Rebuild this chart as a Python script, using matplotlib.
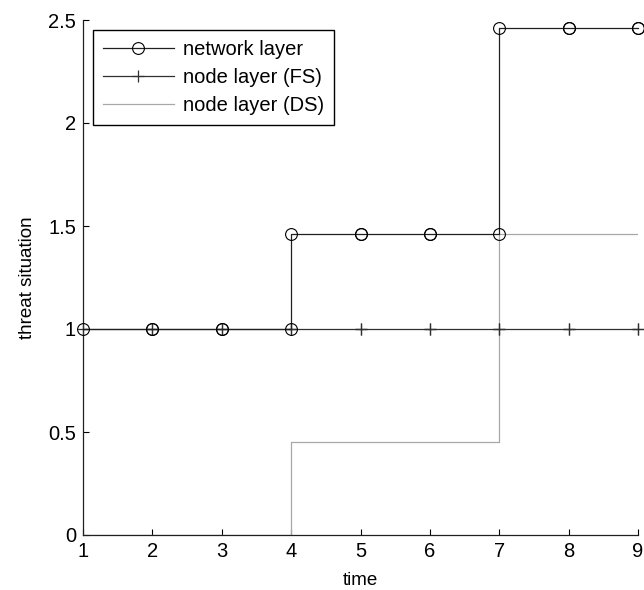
import numpy as np
import matplotlib.pyplot as plt

plt.rcParams['font.family'] = ['Liberation Sans', 'DejaVu Sans']

# ─── Data ────────────────────────────────────────────────────────────
time = [1, 2, 3, 4, 5, 6, 7, 8, 9]
network = [1, 1, 1, 1.46, 1.46, 1.46, 2.46, 2.46, 2.46]
node_fs = [1, 1, 1, 1, 1, 1, 1, 1, 1]
node_ds = [0, 0, 0, 0.45, 0.45, 0.45, 1.46, 1.46, 1.46]
xticks = [1, 2, 3, 4, 5, 6, 7, 8, 9]
yticks = [0, 0.5, 1, 1.5, 2, 2.5]


def stair_vertices(x, y):
    """MATLAB-style stairs: every corner is a vertex."""
    x = np.asarray(x, float)
    y = np.asarray(y, float)
    xs = np.repeat(x, 2)[1:]
    ys = np.repeat(y, 2)[:-1]
    return xs, ys


fig = plt.figure(figsize=(6.44, 5.90), dpi=100)
ax = fig.add_axes([83 / 644, 1 - 535 / 590, 555 / 644, 515 / 590])

xs, ys = stair_vertices(time, node_ds)
ax.plot(xs, ys, color='#a8a8a8', linewidth=0.9, label='node layer (DS)', zorder=2)

xs, ys = stair_vertices(time, node_fs)
ax.plot(xs, ys, color='#303030', linewidth=0.9, marker='+', markersize=9,
        markeredgewidth=0.9, label='node layer (FS)', zorder=3, clip_on=False)

xs, ys = stair_vertices(time, network)
ax.plot(xs, ys, color='#202020', linewidth=0.9, marker='o', markersize=8.5,
        markerfacecolor='none', markeredgecolor='black', markeredgewidth=0.8,
        label='network layer', zorder=4, clip_on=False)

ax.set_xlim(1, 9)
ax.set_ylim(0, 2.5)
ax.set_xticks(xticks)
ax.set_yticks(yticks)
ax.set_yticklabels(['0', '0.5', '1', '1.5', '2', '2.5'])
ax.tick_params(direction='in', length=4, width=0.8, labelsize=14.5, pad=5)
ax.spines['top'].set_visible(False)
ax.spines['right'].set_visible(False)
for s in ('left', 'bottom'):
    ax.spines[s].set_linewidth(0.9)
    ax.spines[s].set_color('#202020')

ax.set_xlabel('time', fontsize=13.5, labelpad=8)
ax.set_ylabel('threat situation', fontsize=13.5, labelpad=9)

handles, labels = ax.get_legend_handles_labels()
order = [2, 1, 0]
leg = ax.legend([handles[i] for i in order], [labels[i] for i in order],
                loc='upper left', bbox_to_anchor=(10 / 555, 1 - 10 / 515),
                fontsize=14.5, frameon=True, fancybox=False, framealpha=1,
                edgecolor='black', handlelength=3.5, borderpad=0.5,
                labelspacing=0.45, handletextpad=0.45, borderaxespad=0)
leg.get_frame().set_linewidth(1.0)

fig.savefig('out.png', dpi=100)
